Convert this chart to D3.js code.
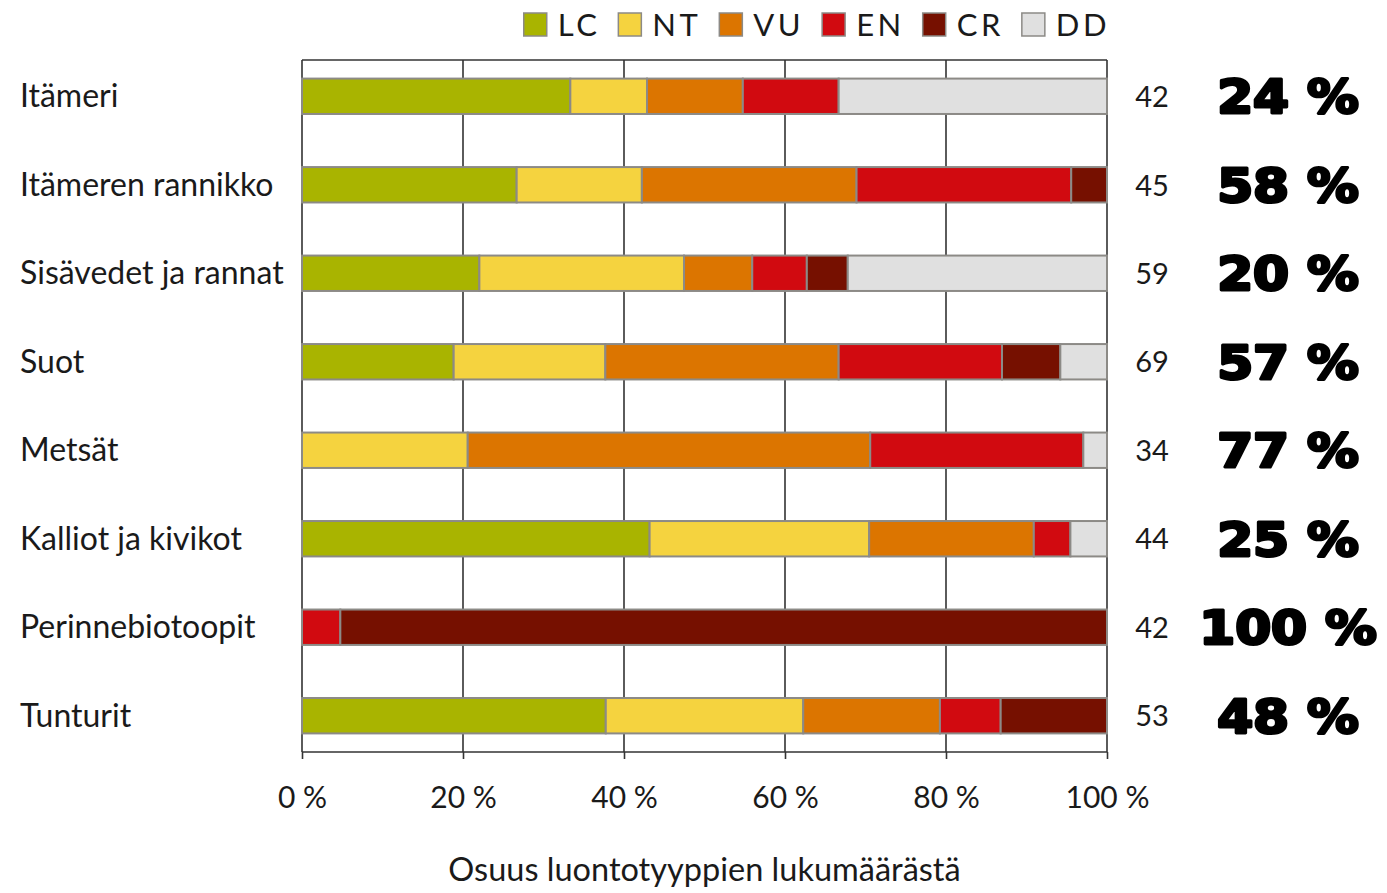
<!DOCTYPE html>
<html><head><meta charset="utf-8">
<script src="https://cdn.jsdelivr.net/npm/d3@7"></script>
<style>
body{margin:0;background:#fff;}
svg{display:block;}
</style></head>
<body>
<script>
// ---- data ----
const categories = ["Itämeri","Itämeren rannikko","Sisävedet ja rannat","Suot","Metsät","Kalliot ja kivikot","Perinnebiotoopit","Tunturit"];
const classes = ["LC","NT","VU","EN","CR","DD"];
const LC = [14,12,13,13,0,19,0,20];
const NT = [4,7,15,13,7,12,0,13];
const VU = [5,12,5,20,17,9,0,9];
const EN = [5,12,4,14,9,2,2,4];
const CR = [0,2,3,5,0,0,40,7];
const DD = [14,0,19,4,1,2,0,0];
const totals = [42,45,59,69,34,44,42,53];
const bigLabels = ["24 %","58 %","20 %","57 %","77 %","25 %","100 %","48 %"];
const xTicks = [0,20,40,60,80,100];
const tickLabels = ["0 %","20 %","40 %","60 %","80 %","100 %"];
const axisTitle = "Osuus luontotyyppien lukumäärästä";
const colors = ["#a9b400","#f5d33f","#dc7500","#d10a10","#761000","#e0e0e0"];

const series = [LC,NT,VU,EN,CR,DD];

const W=1387,H=893;
const svg=d3.select("body").append("svg").attr("width",W).attr("height",H);
const font="Lato, 'Open Sans', sans-serif";
const x=d3.scaleLinear().domain([0,100]).range([302,1107]);
const y=d3.scaleBand().domain(categories).range([60,752]).paddingInner(0.6).paddingOuter(0.21);
const color=d3.scaleOrdinal().domain(classes).range(colors);

// frame & gridlines
const g=svg.append("g");
g.append("line").attr("x1",x(0)).attr("x2",x(100)).attr("y1",60).attr("y2",60).attr("stroke","#333").attr("stroke-width",1.6);
g.selectAll(".grid").data(xTicks).join("line")
  .attr("x1",d=>x(d)).attr("x2",d=>x(d)).attr("y1",60).attr("y2",752)
  .attr("stroke","#333").attr("stroke-width",1.6);

// bottom axis
const axis=d3.axisBottom(x).tickValues(xTicks).tickSize(7).tickFormat((d,i)=>tickLabels[i]);
const ax=svg.append("g").attr("transform","translate(0,752)").call(axis);
ax.select(".domain").attr("stroke","#333").attr("stroke-width",1.6).attr("d",`M${x(0)},0H${x(100)}`);
ax.selectAll(".tick line").attr("stroke","#333").attr("stroke-width",1.6);
ax.selectAll(".tick text").attr("font-family",font).attr("font-size",30).attr("fill","#1a1a1a").attr("dy",0).attr("y",56);

// stacked data
const rows=categories.map((c,i)=>{const o={cat:c};classes.forEach((k,j)=>o[k]=series[j][i]/totals[i]*100);return o;});
const stack=d3.stack().keys(classes)(rows);
svg.append("g").selectAll("g").data(stack).join("g").attr("fill",d=>color(d.key))
  .selectAll("rect").data(d=>d.filter(s=>s[1]-s[0]>0)).join("rect")
  .attr("x",d=>x(d[0])).attr("width",d=>x(d[1])-x(d[0]))
  .attr("y",d=>y(d.data.cat)).attr("height",y.bandwidth())
  .attr("stroke","#8c8a86").attr("stroke-width",2);

// category labels
svg.append("g").selectAll("text").data(categories).join("text")
  .attr("x",20).attr("y",d=>y(d)+y.bandwidth()/2).attr("dy","0.35em")
  .attr("font-family",font).attr("font-size",32).attr("fill","#1a1a1a").text(d=>d);

// totals
svg.append("g").selectAll("text").data(totals).join("text")
  .attr("x",1152).attr("text-anchor","middle").attr("y",(d,i)=>y(categories[i])+y.bandwidth()/2).attr("dy","0.37em")
  .attr("font-family",font).attr("font-size",29).attr("fill","#1a1a1a").text(d=>d);

// big percentages
svg.append("g").selectAll("text").data(bigLabels).join("text")
  .attr("text-anchor","middle")
  .attr("transform",(d,i)=>`translate(1288,${y(categories[i])+y.bandwidth()/2}) scale(1.1,1)`)
  .attr("dy","0.36em")
  .attr("font-family","'DejaVu Sans', sans-serif").attr("font-weight","bold").attr("font-size",47)
  .attr("fill","#000").attr("stroke","#000").attr("stroke-width",3).attr("stroke-linejoin","round").text(d=>d);

// axis title
svg.append("text").attr("x",(x(0)+x(100))/2).attr("y",881).attr("text-anchor","middle")
  .attr("font-family",font).attr("font-size",32.5).attr("fill","#1a1a1a").text(axisTitle);

// legend (right-aligned to plot edge)
const leg=svg.append("g");
const items=leg.selectAll("g").data(classes).join("g");
items.append("rect").attr("width",23).attr("height",23).attr("y",13).attr("fill",d=>color(d)).attr("stroke","#8c8a86").attr("stroke-width",1.5);
items.append("text").attr("x",34).attr("y",25).attr("dy","0.36em").attr("font-family",font).attr("font-size",31).attr("letter-spacing",3.5).attr("fill","#1a1a1a").text(d=>d);
let widths=[];items.each(function(){widths.push(this.getBBox().width);});
const gap=18;const totalW=d3.sum(widths)+gap*(widths.length-1);
let cx=1110-totalW;
items.each(function(d,i){d3.select(this).attr("transform",`translate(${cx},0)`);cx+=widths[i]+gap;});
</script>
</body></html>
